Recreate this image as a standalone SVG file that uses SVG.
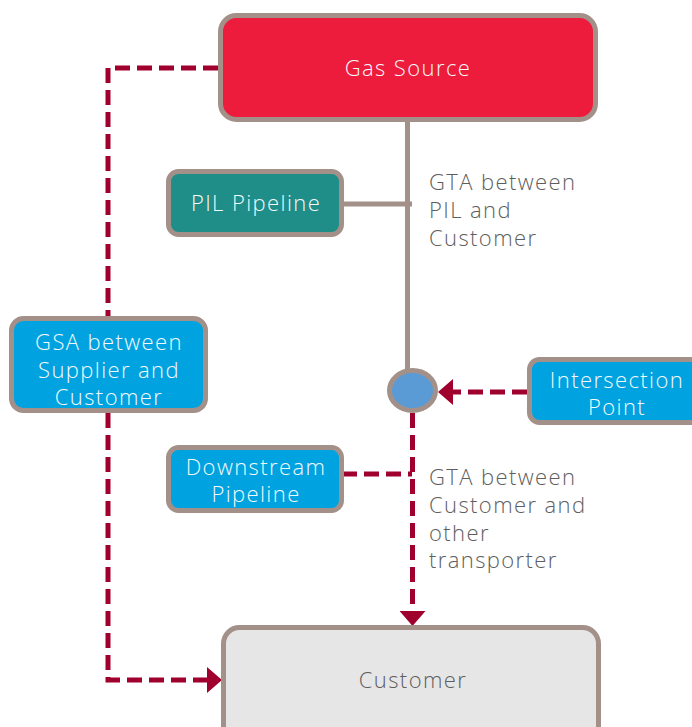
<svg xmlns="http://www.w3.org/2000/svg" width="692" height="727" viewBox="0 0 692 727">
  <style>
    .box { stroke: #A39189; stroke-width: 5; }
    .label { font-family: "Open Sans", "Lato", "Liberation Sans", sans-serif; font-weight: 300; text-anchor: middle; letter-spacing: 1.4px; }
    .light { fill: #F4F9FB; font-size: 22px; }
    .note { fill: #5E5E5E; font-size: 22px; letter-spacing: 1.4px; font-family: "Open Sans", "Lato", "Liberation Sans", sans-serif; font-weight: 300; }
    .pipe { fill: none; stroke: #A39189; stroke-width: 5; }
    .flow { fill: none; stroke: #A0002E; stroke-width: 5; stroke-dasharray: 15 7; }
  </style>
  <defs>
    <marker id="arrow" markerUnits="userSpaceOnUse" markerWidth="15" markerHeight="26" refX="0" refY="13" orient="auto">
      <path d="M0,0 L15,13 L0,26 Z" fill="#A0002E"/>
    </marker>
  </defs>

  <rect width="692" height="727" fill="#FFFFFF"/>

  <!-- connectors -->
  <g id="connectors">
    <path class="pipe" d="M407.5,120 V369"/>
    <path class="pipe" d="M342,204 H412"/>
    <path class="flow" d="M218,68 H108 V317"/>
    <path class="flow" d="M108,413 V680 H207" marker-end="url(#arrow)"/>
    <path class="flow" d="M527,392 H453" marker-end="url(#arrow)"/>
    <path class="flow" d="M412.5,413 V611" marker-end="url(#arrow)"/>
    <path class="flow" d="M342,474 H412"/>
  </g>

  <!-- nodes -->
  <g id="gas-source">
    <rect class="box" x="220.5" y="15.5" width="375" height="104" rx="16" fill="#ED1B3C"/>
    <text class="label light" x="408" y="76">Gas Source</text>
  </g>

  <g id="pil-pipeline">
    <rect class="box" x="168.5" y="171.5" width="173" height="63" rx="10" fill="#1F8E89"/>
    <text class="label light" x="256" y="211">PIL Pipeline</text>
  </g>

  <g id="gta-pil-note">
    <text class="note" x="429" y="190">GTA between</text>
    <text class="note" x="429" y="218">PIL and</text>
    <text class="note" x="429" y="246">Customer</text>
  </g>

  <g id="gsa">
    <rect class="box" x="11.5" y="318.5" width="194" height="92" rx="12" fill="#00A3E0"/>
    <text class="label light" x="109" y="350">GSA between</text>
    <text class="label light" x="109" y="378">Supplier and</text>
    <text class="label light" x="109" y="405">Customer</text>
  </g>

  <g id="intersection-node">
    <ellipse class="box" cx="412.5" cy="390.5" rx="23" ry="20" fill="#5B9BD5"/>
  </g>

  <g id="intersection-point">
    <rect class="box" x="529.5" y="359.5" width="180" height="63" rx="10" fill="#00A3E0"/>
    <text class="label light" x="617" y="388">Intersection</text>
    <text class="label light" x="617" y="415">Point</text>
  </g>

  <g id="downstream-pipeline">
    <rect class="box" x="168.5" y="447.5" width="173" height="63" rx="10" fill="#00A3E0"/>
    <text class="label light" x="256" y="475">Downstream</text>
    <text class="label light" x="256" y="502">Pipeline</text>
  </g>

  <g id="gta-other-note">
    <text class="note" x="429" y="485">GTA between</text>
    <text class="note" x="429" y="513">Customer and</text>
    <text class="note" x="429" y="541">other</text>
    <text class="note" x="429" y="568">transporter</text>
  </g>

  <g id="customer">
    <rect class="box" x="223.5" y="627.5" width="375" height="130" rx="16" fill="#E6E6E6"/>
    <text class="label" x="413" y="688" style="font-size:22px; fill:#5E5E5E">Customer</text>
  </g>
</svg>
